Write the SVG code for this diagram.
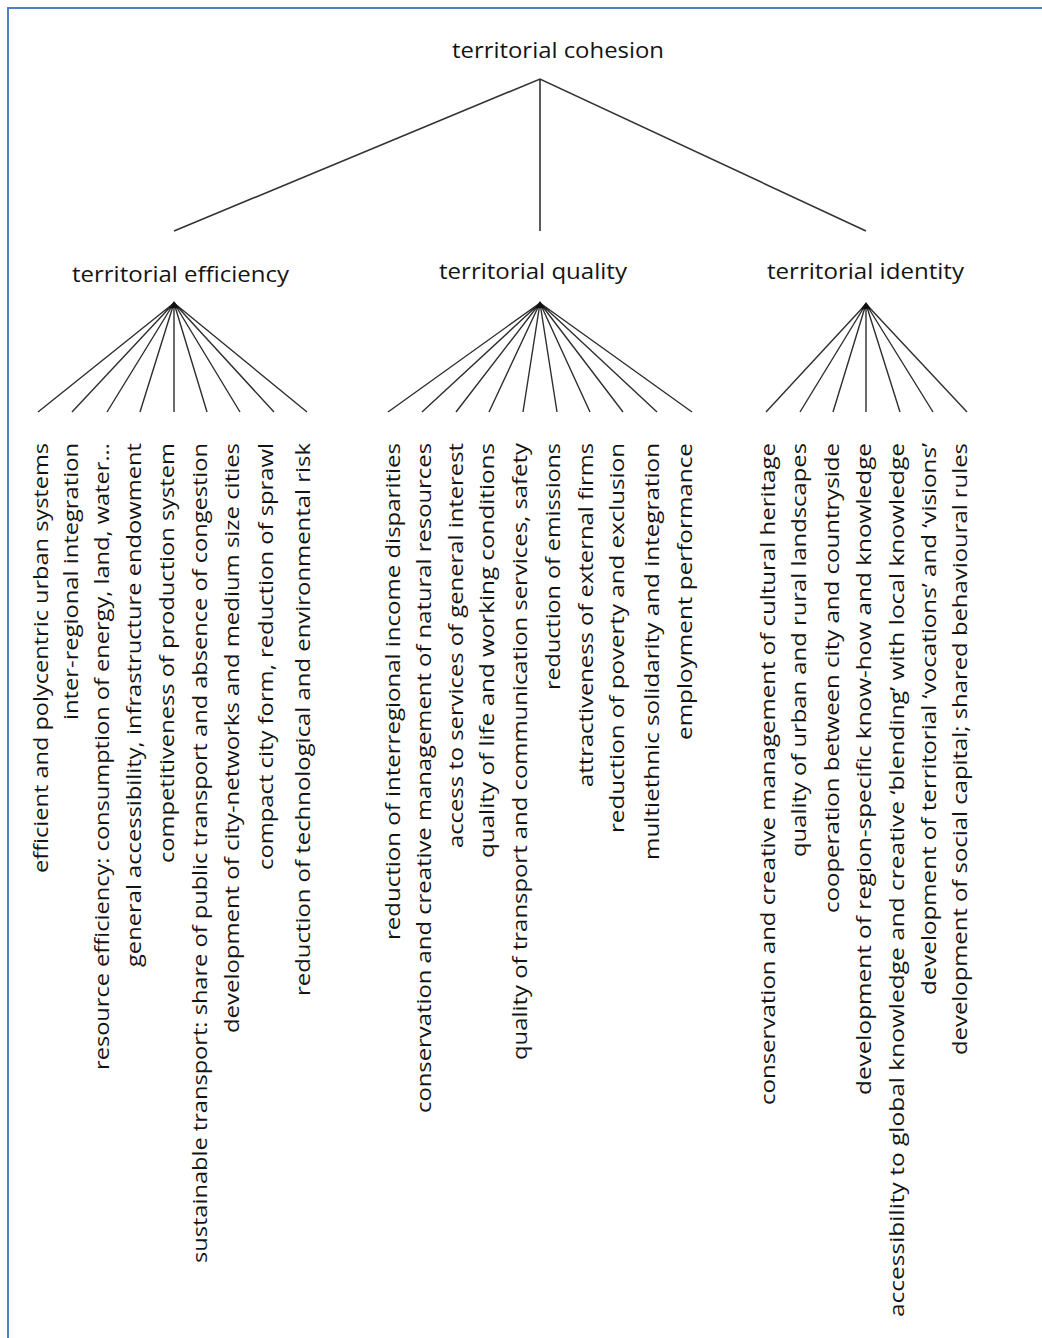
<svg xmlns="http://www.w3.org/2000/svg" width="1042" height="1338" viewBox="0 0 1042 1338">
<style>
.bg{fill:#ffffff}
.frame{stroke:#4f7fc0;stroke-width:2;fill:none}
.h{font-family:"Open Sans","Liberation Sans",sans-serif;font-size:22px;fill:#141414}
.v{font-family:"Open Sans","Liberation Sans",sans-serif;font-size:20px;fill:#141414;text-anchor:end}
.main{stroke:#333333;stroke-width:1.6;fill:none}
.fan{stroke:#2e2e2e;stroke-width:1.4;fill:none}
.apex{fill:#111111}
</style>
<rect class="bg" x="0" y="0" width="1042" height="1338"/>
<path class="frame" d="M8,1338 V8 H1042"/>

<g id="connectors">
  <path class="main" d="M174,231 L540,79 L866,231 M540,79 V231"/>
  <path class="fan" d="M174,303 L38,412 M174,303 L72,412 M174,303 L107,412 M174,303 L140,412 M174,303 L174,412 M174,303 L207,412 M174,303 L240,412 M174,303 L274,412 M174,303 L307,412"/>
  <path class="fan" d="M540,303 L388,412 M540,303 L422,412 M540,303 L456,412 M540,303 L489,412 M540,303 L523,412 M540,303 L557,412 M540,303 L590,412 M540,303 L623,412 M540,303 L657,412 M540,303 L692,412"/>
  <path class="fan" d="M866,304 L766,412 M866,304 L800,412 M866,304 L833,412 M866,304 L866,412 M866,304 L900,412 M866,304 L933,412 M866,304 L967,412"/>
  <path class="apex" d="M169,308 L174,301 L179,308 Z"/>
  <path class="apex" d="M535,308 L540,301 L545,308 Z"/>
  <path class="apex" d="M861,309 L866,302 L871,309 Z"/>
</g>

<g id="n-cohesion"><text class="h" x="452" y="58" textLength="212" lengthAdjust="spacingAndGlyphs">territorial cohesion</text></g>
<g id="n-efficiency"><text class="h" x="72" y="282" textLength="217" lengthAdjust="spacingAndGlyphs">territorial efficiency</text></g>
<g id="n-quality"><text class="h" x="439" y="279" textLength="188" lengthAdjust="spacingAndGlyphs">territorial quality</text></g>
<g id="n-identity"><text class="h" x="767" y="279" textLength="197" lengthAdjust="spacingAndGlyphs">territorial identity</text></g>

<g id="e1"><text class="v" transform="translate(48,443) rotate(-90)" textLength="430" lengthAdjust="spacingAndGlyphs">efficient and polycentric urban systems</text></g>
<g id="e2"><text class="v" transform="translate(78,443) rotate(-90)" textLength="277" lengthAdjust="spacingAndGlyphs">inter-regional integration</text></g>
<g id="e3"><text class="v" transform="translate(109,443) rotate(-90)" textLength="627" lengthAdjust="spacingAndGlyphs">resource efficiency: consumption of energy, land, water...</text></g>
<g id="e4"><text class="v" transform="translate(141,443) rotate(-90)" textLength="524" lengthAdjust="spacingAndGlyphs">general accessibility, infrastructure endowment</text></g>
<g id="e5"><text class="v" transform="translate(174,443) rotate(-90)" textLength="420" lengthAdjust="spacingAndGlyphs">competitiveness of production system</text></g>
<g id="e6"><text class="v" transform="translate(207,443) rotate(-90)" textLength="820" lengthAdjust="spacingAndGlyphs">sustainable transport: share of public transport and absence of congestion</text></g>
<g id="e7"><text class="v" transform="translate(239,443) rotate(-90)" textLength="590" lengthAdjust="spacingAndGlyphs">development of city-networks and medium size cities</text></g>
<g id="e8"><text class="v" transform="translate(273,443) rotate(-90)" textLength="427" lengthAdjust="spacingAndGlyphs">compact city form, reduction of sprawl</text></g>
<g id="e9"><text class="v" transform="translate(310,443) rotate(-90)" textLength="553" lengthAdjust="spacingAndGlyphs">reduction of technological and environmental risk</text></g>

<g id="q1"><text class="v" transform="translate(400,443) rotate(-90)" textLength="497" lengthAdjust="spacingAndGlyphs">reduction of interregional income disparities</text></g>
<g id="q2"><text class="v" transform="translate(431,443) rotate(-90)" textLength="670" lengthAdjust="spacingAndGlyphs">conservation and creative management of natural resources</text></g>
<g id="q3"><text class="v" transform="translate(463,443) rotate(-90)" textLength="405" lengthAdjust="spacingAndGlyphs">access to services of general interest</text></g>
<g id="q4"><text class="v" transform="translate(494,443) rotate(-90)" textLength="415" lengthAdjust="spacingAndGlyphs">quality of life and working conditions</text></g>
<g id="q5"><text class="v" transform="translate(527,443) rotate(-90)" textLength="617" lengthAdjust="spacingAndGlyphs">quality of transport and communication services, safety</text></g>
<g id="q6"><text class="v" transform="translate(560,443) rotate(-90)" textLength="247" lengthAdjust="spacingAndGlyphs">reduction of emissions</text></g>
<g id="q7"><text class="v" transform="translate(593,443) rotate(-90)" textLength="344" lengthAdjust="spacingAndGlyphs">attractiveness of external firms</text></g>
<g id="q8"><text class="v" transform="translate(624,443) rotate(-90)" textLength="390" lengthAdjust="spacingAndGlyphs">reduction of poverty and exclusion</text></g>
<g id="q9"><text class="v" transform="translate(659,443) rotate(-90)" textLength="417" lengthAdjust="spacingAndGlyphs">multiethnic solidarity and integration</text></g>
<g id="q10"><text class="v" transform="translate(692,443) rotate(-90)" textLength="297" lengthAdjust="spacingAndGlyphs">employment performance</text></g>

<g id="i1"><text class="v" transform="translate(775,443) rotate(-90)" textLength="662" lengthAdjust="spacingAndGlyphs">conservation and creative management of cultural heritage</text></g>
<g id="i2"><text class="v" transform="translate(806,443) rotate(-90)" textLength="414" lengthAdjust="spacingAndGlyphs">quality of urban and rural landscapes</text></g>
<g id="i3"><text class="v" transform="translate(839,443) rotate(-90)" textLength="470" lengthAdjust="spacingAndGlyphs">cooperation between city and countryside</text></g>
<g id="i4"><text class="v" transform="translate(871,443) rotate(-90)" textLength="652" lengthAdjust="spacingAndGlyphs">development of region-specific know-how and knowledge</text></g>
<g id="i5"><text class="v" transform="translate(904,443) rotate(-90)" textLength="874" lengthAdjust="spacingAndGlyphs">accessibility to global knowledge and creative ‘blending’ with local knowledge</text></g>
<g id="i6"><text class="v" transform="translate(936,443) rotate(-90)" textLength="552" lengthAdjust="spacingAndGlyphs">development of territorial ‘vocations’ and ‘visions’</text></g>
<g id="i7"><text class="v" transform="translate(967,443) rotate(-90)" textLength="612" lengthAdjust="spacingAndGlyphs">development of social capital; shared behavioural rules</text></g>
</svg>
